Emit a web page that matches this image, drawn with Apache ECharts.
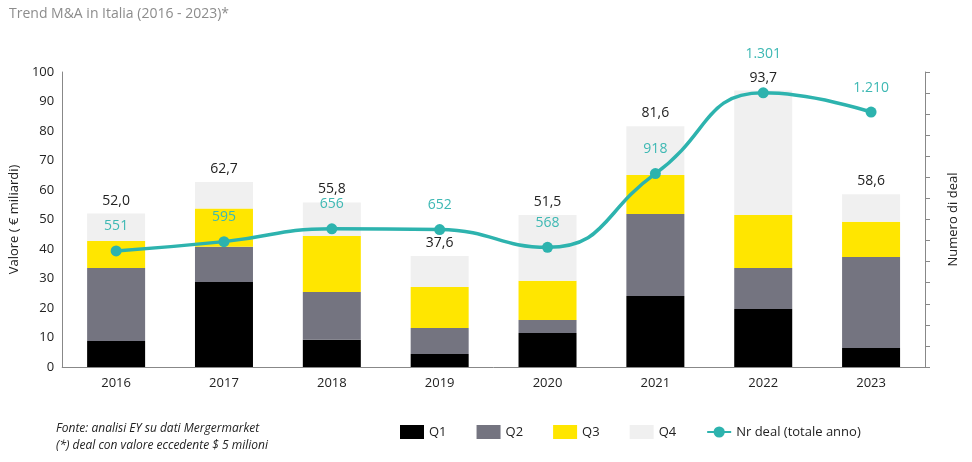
<!DOCTYPE html><html><head><meta charset="utf-8">
<script src="https://cdn.jsdelivr.net/npm/echarts@6/dist/echarts.min.js"></script>
<style>body{margin:0}#c{width:972px;height:462px}</style></head><body><div id="c"></div>
<script>
const years=['2016','2017','2018','2019','2020','2021','2022','2023'];
const q1=[8.8,28.8,9.2,4.4,11.5,24.1,19.7,6.4];
const q2=[24.8,12.0,16.2,8.8,4.4,27.8,13.9,30.9];
const q3=[9.1,12.9,19.0,13.9,13.3,13.2,17.9,11.9];
const totals=[52.0,62.7,55.8,37.6,51.5,81.6,93.7,58.6];
const deals=[551,595,656,652,568,918,1301,1210];
const q4=totals.map((t,i)=>+(t-q1[i]-q2[i]-q3[i]).toFixed(1));
const font='"Open Sans", sans-serif';
const bar=(name,data,color,extra)=>Object.assign({name,type:'bar',stack:'v',data,barWidth:58,itemStyle:{color},emphasis:{disabled:true}},extra||{});
const chart=echarts.init(document.getElementById('c'));
chart.setOption({
 animation:false,textStyle:{fontFamily:font},
 title:{text:'Trend M&A in Italia (2016 - 2023)*',left:4,top:2,textStyle:{fontSize:14,fontWeight:'normal',color:'#8c8c8c',fontFamily:font}},
 grid:{left:62,right:47,top:72,bottom:95},
 legend:{left:395,top:420,itemGap:30,itemWidth:24,itemHeight:14,textStyle:{fontSize:13,color:'#222'},
  data:[{name:'Q1',icon:'rect'},{name:'Q2',icon:'rect'},{name:'Q3',icon:'rect'},{name:'Q4',icon:'rect'},{name:'Nr deal (totale anno)'}]},
 graphic:[{type:'text',left:56,top:420,style:{text:'Fonte: analisi EY su dati Mergermarket\n(*) deal con valore eccedente $ 5 milioni',font:'italic 12px "Open Sans", sans-serif',fill:'#222',lineHeight:17}}],
 xAxis:{type:'category',data:years,axisTick:{show:false},axisLine:{lineStyle:{color:'#888'}},axisLabel:{fontSize:13,color:'#222',margin:10}},
 yAxis:[{type:'value',min:0,max:100,interval:10,name:'Valore ( € miliardi)',nameLocation:'middle',nameGap:36,nameTextStyle:{fontSize:13,color:'#222'},
   splitLine:{show:false},axisLine:{show:true,lineStyle:{color:'#888'}},axisTick:{show:false},axisLabel:{fontSize:13,color:'#222'}},
  {type:'value',min:0,max:1400,interval:100,name:'Numero di deal',nameLocation:'middle',nameGap:22,nameTextStyle:{fontSize:13,color:'#222'},
   splitLine:{show:false},axisLine:{show:true,lineStyle:{color:'#888'}},axisTick:{show:true,length:5,lineStyle:{color:'#888'}},axisLabel:{show:false}}],
 series:[
  bar('Q1',q1,'#000000'),bar('Q2',q2,'#747480'),bar('Q3',q3,'#FFE600'),
  bar('Q4',q4,'#F0F0F0',{label:{show:true,position:'top',distance:6,fontSize:14,color:'#222',formatter:p=>totals[p.dataIndex].toFixed(1).replace('.',',')}}),
  {name:'Nr deal (totale anno)',type:'line',yAxisIndex:1,smooth:0.5,data:deals,symbol:'circle',symbolSize:11,
   lineStyle:{width:3.5,color:'#2DB3AE'},itemStyle:{color:'#2DB3AE'},
   label:{show:true,position:'top',distance:12,fontSize:14,color:'#3DB8B3',formatter:p=>p.value>=1000?Math.floor(p.value/1000)+'.'+String(p.value%1000).padStart(3,'0'):p.value},
   labelLayout:p=>p.dataIndex===6?{dy:-14}:{}}
 ]
});
</script></body></html>
